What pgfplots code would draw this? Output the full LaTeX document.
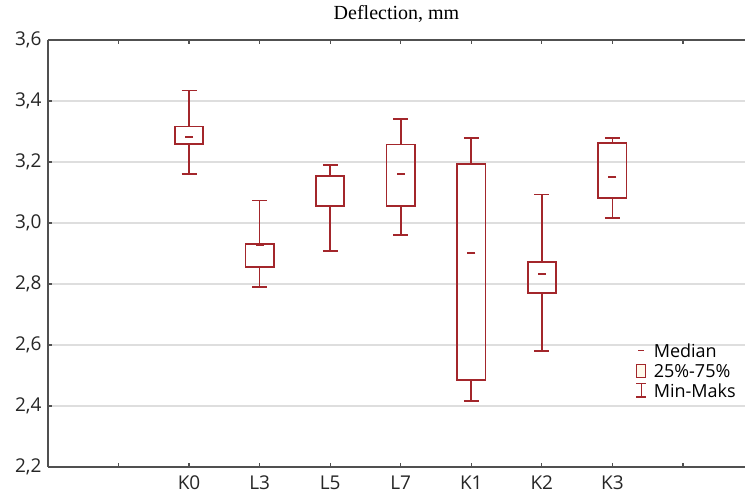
\documentclass[border=0pt]{standalone}
\usepackage{fontspec}
\setmainfont{Open Sans}
\newfontfamily\titlefont{Liberation Serif}
\usepackage{pgfplots}
\pgfplotsset{compat=1.18}
\usepgfplotslibrary{statistics}
\definecolor{boxred}{RGB}{163,38,43}
\definecolor{axgray}{RGB}{80,80,80}
\definecolor{boxfill}{RGB}{255,250,236}

\begin{document}
\begin{tikzpicture}
\begin{axis}[
    scale only axis,
    width=697pt, height=427pt,
    xmin=-2, xmax=7.88,
    ymin=2.2, ymax=3.6,
    axis x line*=box, axis y line*=left,
    axis line style={axgray, line width=1.6pt},
    every tick/.style={axgray, line width=1.2pt},
    major tick length=4pt,
    tick align=inside,
    xtick={-1,0,1,2,3,4,5,6,7},
    xticklabels={{},K0,L3,L5,L7,K1,K2,K3,{}},
    ytick={2.2,2.4,2.6,2.8,3.0,3.2,3.4,3.6},
    ymajorgrids,
    major grid style={line width=1.2pt, black!13},
    tick label style={font=\fontsize{19}{22}\selectfont, black!85},
    xticklabel style={yshift=-5pt},
    yticklabel style={xshift=-3pt},
    yticklabel={\pgfmathprintnumber[fixed, fixed zerofill, precision=1, use comma, assume math mode=true]{\tick}},
    title={\titlefont Deflection, mm},
    title style={font=\fontsize{20}{24}\selectfont, at={(0.5,1)}, anchor=south, yshift=8pt},
    legend cell align=left,
    legend style={at={(0.838,0.297)}, anchor=north west, draw=none, fill=none,
        font=\fontsize{18}{21}\selectfont, row sep=2pt,
        nodes={inner sep=1.5pt},
        /tikz/every odd column/.append style={column sep=5pt}},
    boxplot/draw direction=y,
    boxplot/box extend=0.4,
    boxplot/whisker extend=0.21,
    boxplot/every median/.style={draw=none},
]
\coordinate (ll) at (rel axis cs:0,0);
\coordinate (ur) at (rel axis cs:1,1);

\addlegendimage{legend image code/.code={\path[draw=none, fill=none] (-6pt,-8pt) rectangle (6pt,8pt);
    \draw[boxred, line width=1.6pt] (-3pt,1pt) -- (3pt,1pt);}}
\addlegendentry{Median}
\addlegendimage{legend image code/.code={\path[draw=none, fill=none] (-6pt,-8pt) rectangle (6pt,8pt);
    \draw[boxred, line width=1.4pt, fill=boxfill] (-4.5pt,-6pt) rectangle (4.5pt,7pt);}}
\addlegendentry{25\%-75\%}
\addlegendimage{legend image code/.code={\path[draw=none, fill=none] (-6pt,-8pt) rectangle (6pt,8pt);
    \draw[boxred, line width=1.4pt] (-5pt,-6pt) -- (5pt,-6pt) (0,-6pt) -- (0,7.5pt) (-5pt,7.5pt) -- (5pt,7.5pt);}}
\addlegendentry{Min-Maks}

% K0
\addplot[boxred, line width=1.6pt, forget plot, boxplot prepared={draw position=0,
    lower whisker=3.160, lower quartile=3.259, median=3.282, upper quartile=3.317, upper whisker=3.434}] coordinates {};
% L3
\addplot[boxred, line width=1.6pt, forget plot, boxplot prepared={draw position=1,
    lower whisker=2.791, lower quartile=2.855, median=2.928, upper quartile=2.931, upper whisker=3.074}] coordinates {};
% L5
\addplot[boxred, line width=1.6pt, forget plot, boxplot prepared={draw position=2,
    lower whisker=2.908, lower quartile=3.056, median=3.057, upper quartile=3.155, upper whisker=3.191}] coordinates {};
% L7
\addplot[boxred, line width=1.6pt, forget plot, boxplot prepared={draw position=3,
    lower whisker=2.961, lower quartile=3.056, median=3.162, upper quartile=3.258, upper whisker=3.341}] coordinates {};
% K1
\addplot[boxred, line width=1.6pt, forget plot, boxplot prepared={draw position=4,
    lower whisker=2.416, lower quartile=2.485, median=2.901, upper quartile=3.193, upper whisker=3.278}] coordinates {};
% K2
\addplot[boxred, line width=1.6pt, forget plot, boxplot prepared={draw position=5,
    lower whisker=2.580, lower quartile=2.770, median=2.833, upper quartile=2.872, upper whisker=3.094}] coordinates {};
% K3
\addplot[boxred, line width=1.6pt, forget plot, boxplot prepared={draw position=6,
    lower whisker=3.016, lower quartile=3.081, median=3.151, upper quartile=3.263, upper whisker=3.278}] coordinates {};

% medians as short dashes
\addplot[only marks, mark=-, mark size=4pt, forget plot,
    mark options={draw=boxred, line width=2pt}] coordinates {
    (0,3.282) (1,2.928) (2,3.057) (3,3.162) (4,2.901) (5,2.833) (6,3.151)
};
\end{axis}
\pgfresetboundingbox
\path[use as bounding box] ([shift={(-48pt,-28pt)}]ll) rectangle ([shift={(0pt,40pt)}]ur);
\end{tikzpicture}
\end{document}
